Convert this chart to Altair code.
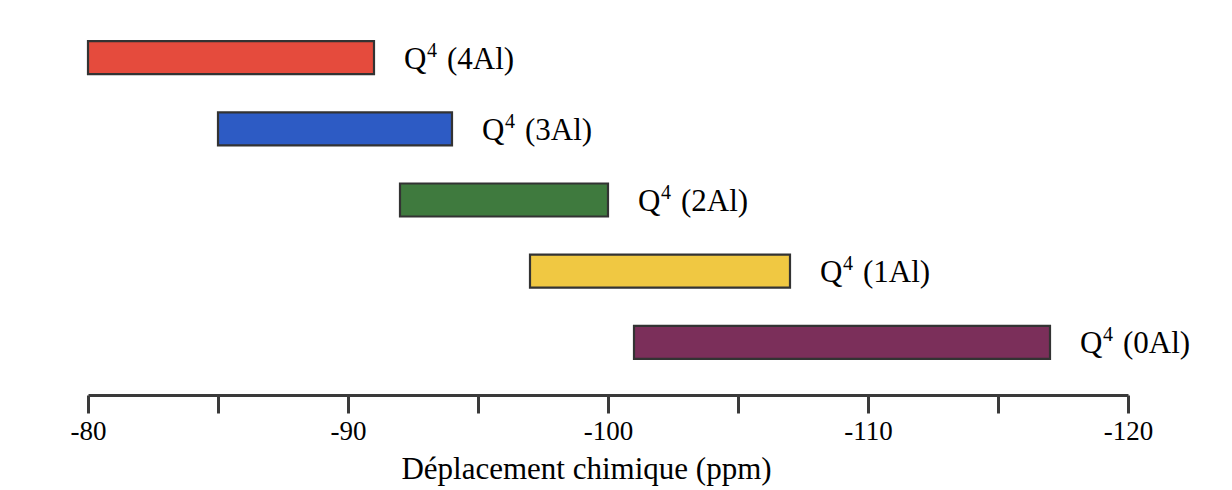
import altair as alt
import pandas as pd

# Chemical shift ranges of Q4(nAl) silicon environments (ppm)
species = ["Q4 (4Al)", "Q4 (3Al)", "Q4 (2Al)", "Q4 (1Al)", "Q4 (0Al)"]
base = ["Q", "Q", "Q", "Q", "Q"]
sup = ["4", "4", "4", "4", "4"]
env = ["(4Al)", "(3Al)", "(2Al)", "(1Al)", "(0Al)"]
shift_start = [-80, -85, -92, -97, -101]
shift_end = [-91, -94, -100, -107, -117]
colors = ["#e54b3d", "#2d5bc4", "#3f7a3e", "#f0c842", "#7b2f5a"]

ticks = [-80, -85, -90, -95, -100, -105, -110, -115, -120]

df = pd.DataFrame({
    "species": species,
    "base": base,
    "sup": sup,
    "env": env,
    "start": shift_start,
    "end": shift_end,
    "color": colors,
})

serif = "Liberation Serif"

x_scale = alt.Scale(domain=[-80, -120], nice=False, zero=False)
y_scale = alt.Scale(domain=species, paddingInner=0, paddingOuter=0)

bars = alt.Chart(df).mark_bar(
    size=33, stroke="#333333", strokeWidth=2.2, cornerRadius=0
).encode(
    x=alt.X(
        "start:Q",
        scale=x_scale,
        axis=alt.Axis(
            values=ticks,
            labelExpr="datum.value % 10 == 0 ? '' + datum.value : ''",
            title="Déplacement chimique (ppm)",
            titleFont=serif,
            titleFontSize=31,
            titleFontWeight="normal",
            titleColor="#000000",
            titlePadding=10,
            titleX=498,
            labelFont=serif,
            labelFontSize=27,
            labelColor="#000000",
            labelPadding=5,
            labelFlush=False,
            labelOverlap=False,
            domainColor="#3a3a3a",
            domainWidth=3,
            tickColor="#3a3a3a",
            tickWidth=3,
            tickSize=18,
            grid=False,
            offset=17,
        ),
    ),
    x2="end:Q",
    y=alt.Y("species:N", scale=y_scale, axis=None),
    color=alt.Color("color:N", scale=None),
)


def label_part(field, dx, dy, size):
    return alt.Chart(df).mark_text(
        align="left", baseline="alphabetic", dx=dx, dy=dy,
        font=serif, fontSize=size, color="#000000",
    ).encode(
        x=alt.X("end:Q", scale=x_scale),
        y=alt.Y("species:N", scale=y_scale),
        text=f"{field}:N",
    )


# "Q" + raised "4" + "(nAl)" next to each bar end
label_q = label_part("base", 30, 11, 31)
label_sup = label_part("sup", 53, -1, 20)
label_env = label_part("env", 73, 11, 31)

chart = (
    alt.layer(bars, label_q, label_sup, label_env)
    .properties(
        width=1040,
        height=356,
        autosize=alt.AutoSizeParams(type="none"),
        padding={"left": 88, "top": 22, "right": 104, "bottom": 112},
        background="#ffffff",
    )
    .configure_view(stroke=None)
)

chart.save("out.html", embed_options={"renderer": "svg", "actions": False})
